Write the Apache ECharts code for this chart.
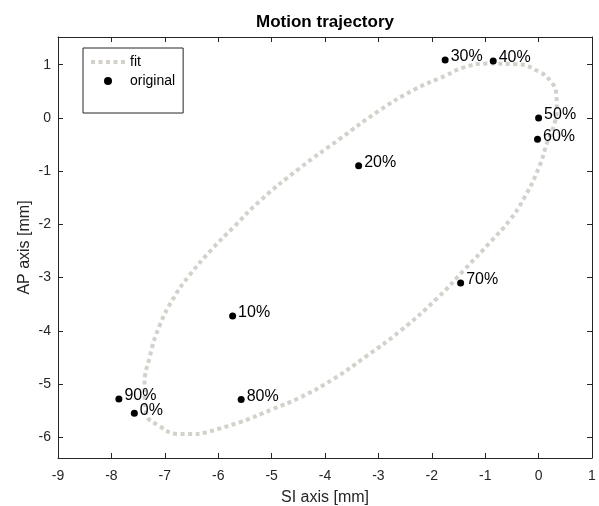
<!DOCTYPE html>
<html>
<head>
<meta charset="utf-8">
<script src="https://cdn.jsdelivr.net/npm/echarts@6/dist/echarts.min.js"></script>
<style>
  html, body { margin: 0; padding: 0; background: #fff; }
  #chart { width: 599px; height: 506px; }
</style>
</head>
<body>
<div id="chart"></div>
<script>
// measured phases (SI, AP) in mm
const phaseLabels = ['0%', '10%', '20%', '30%', '40%', '50%', '60%', '70%', '80%', '90%'];
const phaseSI = [-7.57, -5.73, -3.37, -1.75, -0.85, 0.0, -0.02, -1.46, -5.57, -7.86];
const phaseAP = [-5.55, -3.72, -0.90, 1.09, 1.07, 0.0, -0.40, -3.10, -5.29, -5.28];

// fitted ellipse
const fitSI = [-6.35, -6.72, -7.10, -7.35, -7.38, -7.28, -7.10, -6.85, -6.54, -6.12, -5.70, -5.22,
    -4.48, -3.73, -2.98, -2.35, -1.73, -1.40, -0.98, -0.42, 0.02, 0.24, 0.33, 0.34, 0.30, 0.16,
    0.0, -0.29, -0.54, -0.92, -1.37, -1.89, -2.60, -3.23, -3.85, -4.48, -4.98, -5.60, -6.35];
const fitAP = [-5.94, -5.94, -5.79, -5.54, -5.04, -4.48, -3.91, -3.41, -2.96, -2.47, -2.04, -1.56,
    -0.95, -0.40, 0.14, 0.52, 0.80, 0.95, 1.02, 1.01, 0.86, 0.67, 0.46, 0.21, -0.10, -0.46,
    -0.95, -1.54, -1.92, -2.35, -2.83, -3.38, -4.01, -4.48, -4.91, -5.26, -5.47, -5.72, -5.94];

const xTicks = [-9, -8, -7, -6, -5, -4, -3, -2, -1, 0, 1];
const yMin = -6.39, yMax = 1.52;

const FONT = 'Liberation Sans, Arial, sans-serif';
const AXIS_COLOR = '#262626';
const FIT_COLOR = '#d4d1cb';

const chart = echarts.init(document.getElementById('chart'));

function intLabel(v) {
    return Math.abs(v - Math.round(v)) < 1e-6 ? String(Math.round(v)) : '';
}

const baseAxis = {
    axisLine: { show: true, onZero: false, lineStyle: { color: AXIS_COLOR, width: 1 } },
    axisTick: { show: true, inside: true, length: 5, lineStyle: { color: AXIS_COLOR } },
    splitLine: { show: false },
};

// five square dots, like the matlab ':' legend sample
const dotIcon = 'path://M0,0h4v4h-4z M7.5,0h4v4h-4z M15,0h4v4h-4z M22.5,0h4v4h-4z M30,0h4v4h-4z';

const option = {
    animation: false,
    graphic: [{
        type: 'text', x: 325, y: 22,
        style: {
            text: 'Motion trajectory', align: 'center', verticalAlign: 'middle',
            font: 'bold 17px Liberation Sans, Arial, sans-serif', fill: '#000'
        }
    }],
    legend: {
        left: 83, top: 48,
        orient: 'vertical',
        borderColor: AXIS_COLOR, borderWidth: 1,
        padding: [7, 8, 25, 8],
        itemWidth: 34, itemHeight: 8, itemGap: 5,
        textStyle: { fontFamily: FONT, fontSize: 14, color: '#000' },
        data: [
            { name: 'fit', icon: dotIcon, itemStyle: { color: FIT_COLOR } },
            { name: 'original', icon: 'circle' }
        ]
    },
    grid: { left: 58, right: 7, top: 37, bottom: 48, outerBoundsMode: 'none' },
    xAxis: [
        Object.assign({}, baseAxis, {
            type: 'value', min: xTicks[0], max: xTicks[xTicks.length - 1], interval: 1,
            position: 'bottom',
            name: 'SI axis [mm]', nameLocation: 'middle', nameGap: 32, nameMoveOverlap: false,
            nameTextStyle: { fontFamily: FONT, fontSize: 16, color: AXIS_COLOR },
            axisLabel: { fontFamily: FONT, fontSize: 14, color: AXIS_COLOR, margin: 11 }
        }),
        Object.assign({}, baseAxis, {
            type: 'value', min: xTicks[0], max: xTicks[xTicks.length - 1], interval: 1,
            position: 'top', axisLabel: { show: false }
        })
    ],
    yAxis: [
        Object.assign({}, baseAxis, {
            type: 'value', min: yMin, max: yMax, splitNumber: 8,
            position: 'left',
            name: 'AP axis [mm]', nameLocation: 'middle', nameGap: 25, nameMoveOverlap: false,
            nameTextStyle: { fontFamily: FONT, fontSize: 16, color: AXIS_COLOR },
            axisLabel: { fontFamily: FONT, fontSize: 14, color: AXIS_COLOR, margin: 7, formatter: intLabel }
        }),
        Object.assign({}, baseAxis, {
            type: 'value', min: yMin, max: yMax, splitNumber: 8,
            position: 'right', axisLabel: { show: false }
        })
    ],
    series: [
        {
            name: 'fit',
            type: 'line',
            data: fitSI.map((x, i) => [x, fitAP[i]]),
            smooth: 0.5,
            showSymbol: false,
            symbol: 'none',
            color: FIT_COLOR,
            lineStyle: { color: FIT_COLOR, width: 4, type: [4, 3.5], cap: 'butt' },
            z: 2
        },
        {
            name: 'original',
            type: 'scatter',
            data: phaseSI.map((x, i) => [x, phaseAP[i], phaseLabels[i]]),
            symbol: 'circle',
            symbolSize: 7,
            itemStyle: { color: '#000', opacity: 1 },
            label: {
                show: true, position: 'right', distance: 2, offset: [0, -3],
                formatter: p => p.data[2],
                fontFamily: FONT, fontSize: 16, color: '#000'
            },
            z: 3
        }
    ]
};

chart.setOption(option);
</script>
</body>
</html>
